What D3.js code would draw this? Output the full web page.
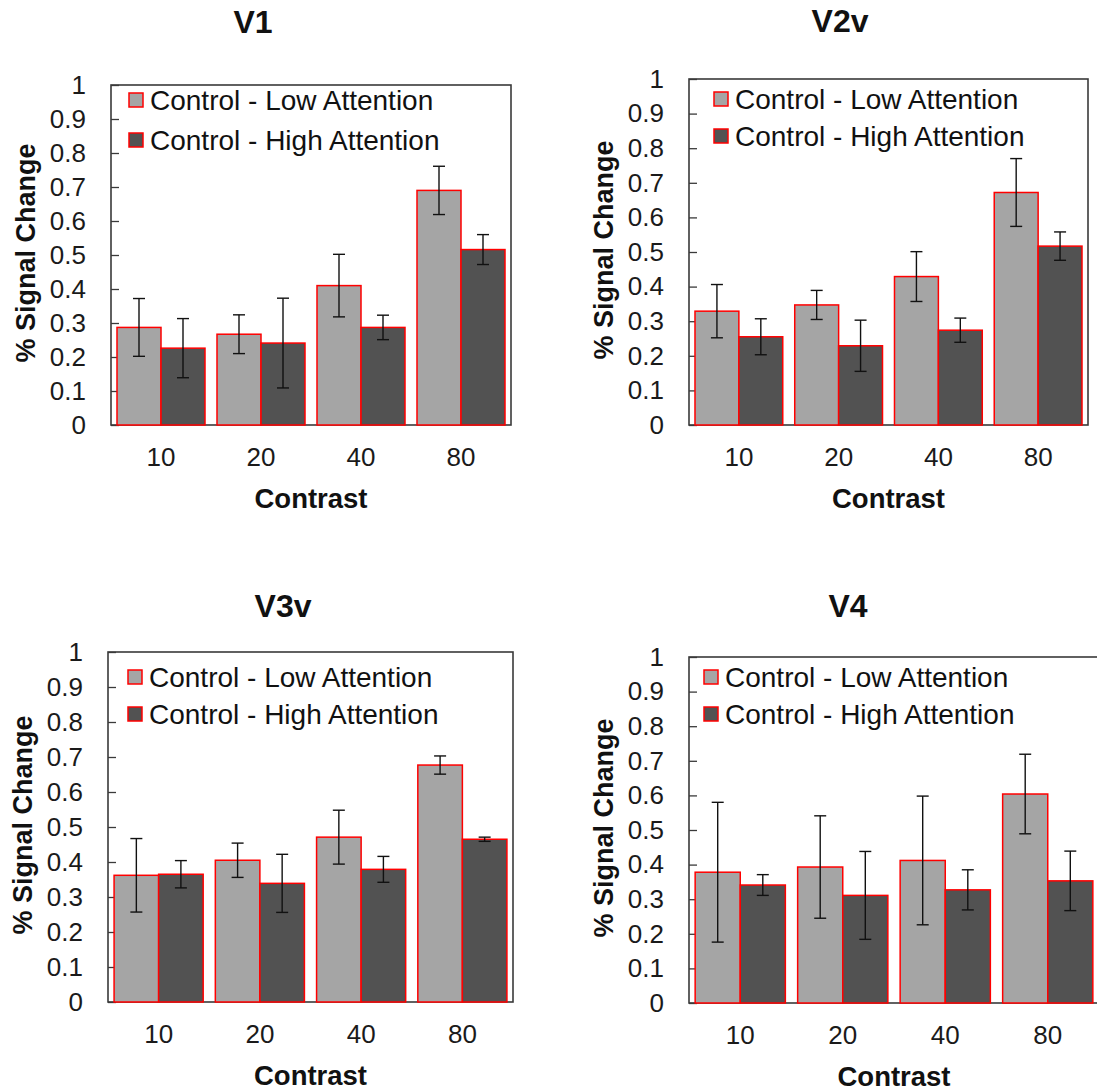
<!DOCTYPE html>
<html>
<head>
<meta charset="utf-8">
<script src="https://cdn.jsdelivr.net/npm/d3@7"></script>
<style>
  body { margin: 0; background: #fff; }
  svg { display: block; font-family: "Liberation Sans", Arial, sans-serif; }
</style>
</head>
<body>
<svg id="chart" width="1097" height="1092"></svg>
<script>
// contrast levels and conditions
var categories = ['10', '20', '40', '80'];
var seriesNames = ['Control - Low Attention', 'Control - High Attention'];
var yTicks = [0, 0.1, 0.2, 0.3, 0.4, 0.5, 0.6, 0.7, 0.8, 0.9, 1];

// means and half-length error bars
var v1Low = [0.287, 0.267, 0.410, 0.690];
var v1LowErr = [0.085, 0.057, 0.092, 0.071];
var v1High = [0.226, 0.241, 0.287, 0.516];
var v1HighErr = [0.087, 0.132, 0.036, 0.044];

var v2Low = [0.329, 0.347, 0.429, 0.672];
var v2LowErr = [0.077, 0.042, 0.072, 0.098];
var v2High = [0.255, 0.229, 0.274, 0.517];
var v2HighErr = [0.052, 0.074, 0.035, 0.041];

var v3Low = [0.362, 0.405, 0.471, 0.677];
var v3LowErr = [0.105, 0.049, 0.077, 0.026];
var v3High = [0.365, 0.339, 0.379, 0.465];
var v3HighErr = [0.039, 0.083, 0.037, 0.006];

var v4Low = [0.378, 0.393, 0.412, 0.604];
var v4LowErr = [0.202, 0.148, 0.186, 0.115];
var v4High = [0.341, 0.311, 0.327, 0.353];
var v4HighErr = [0.030, 0.127, 0.058, 0.086];

var colors = ['#a5a5a5', '#525252'];

// where each panel sits on the page
var panels = [
  { title: 'V1',  low: v1Low, lowErr: v1LowErr, high: v1High, highErr: v1HighErr,
    x: 111, y: 85, w: 400, h: 340, tx: 253, ty: 21, lx: 18, ly: 8, ls: 40 },
  { title: 'V2v', low: v2Low, lowErr: v2LowErr, high: v2High, highErr: v2HighErr,
    x: 689, y: 79, w: 399, h: 346, tx: 840, ty: 20, lx: 25, ly: 13, ls: 37 },
  { title: 'V3v', low: v3Low, lowErr: v3LowErr, high: v3High, highErr: v3HighErr,
    x: 108, y: 652, w: 405, h: 350, tx: 283, ty: 605, lx: 20, ly: 18, ls: 37 },
  { title: 'V4',  low: v4Low, lowErr: v4LowErr, high: v4High, highErr: v4HighErr,
    x: 689, y: 657, w: 410, h: 346, tx: 848, ty: 605, lx: 15, ly: 13, ls: 37 }
];

var svg = d3.select('#chart');

panels.forEach(function (p) {
  var g = svg.append('g').attr('transform', 'translate(' + p.x + ',' + p.y + ')');

  var x0 = d3.scaleBand().domain(categories).range([0, p.w])
    .paddingInner(0.12).paddingOuter(0.06);
  var x1 = d3.scaleBand().domain([0, 1]).range([0, x0.bandwidth()]);
  var y = d3.scaleLinear().domain([0, 1]).range([p.h, 0]);

  // frame
  g.append('rect')
    .attr('width', p.w).attr('height', p.h)
    .attr('fill', 'none').attr('stroke', '#3a3a3a').attr('stroke-width', 1.6);

  // y axis with inward ticks
  var yAxis = g.append('g')
    .call(d3.axisLeft(y).tickValues(yTicks).tickSize(-8).tickPadding(25)
      .tickFormat(function (d) { return d3.format('~g')(d); }));
  yAxis.select('.domain').remove();
  yAxis.selectAll('line').attr('stroke', '#3a3a3a').attr('stroke-width', 1.3);
  yAxis.selectAll('text').attr('font-size', 26).attr('fill', '#1a1a1a')
    .attr('font-family', '"Liberation Sans", Arial, sans-serif');

  var xAxis = g.append('g').attr('transform', 'translate(0,' + p.h + ')')
    .call(d3.axisBottom(x0).tickSize(0).tickPadding(23));
  xAxis.select('.domain').remove();
  xAxis.selectAll('text').attr('font-size', 26).attr('fill', '#1a1a1a')
    .attr('font-family', '"Liberation Sans", Arial, sans-serif');

  var rows = categories.map(function (c, i) {
    return [
      { cat: c, s: 0, v: p.low[i], e: p.lowErr[i] },
      { cat: c, s: 1, v: p.high[i], e: p.highErr[i] }
    ];
  });
  var flat = d3.merge(rows);

  g.selectAll('.bar').data(flat).enter().append('rect').classed('bar', true)
    .attr('x', function (d) { return x0(d.cat) + x1(d.s); })
    .attr('y', function (d) { return y(d.v); })
    .attr('width', x1.bandwidth())
    .attr('height', function (d) { return y(0) - y(d.v); })
    .attr('fill', function (d) { return colors[d.s]; })
    .attr('stroke', '#ff0000').attr('stroke-width', 1.5);

  var cap = 6;
  var err = g.selectAll('.err').data(flat).enter().append('g').classed('err', true)
    .attr('stroke', '#111').attr('stroke-width', 1.4);
  err.append('line')
    .attr('x1', function (d) { return x0(d.cat) + x1(d.s) + x1.bandwidth() / 2; })
    .attr('x2', function (d) { return x0(d.cat) + x1(d.s) + x1.bandwidth() / 2; })
    .attr('y1', function (d) { return y(d.v + d.e); })
    .attr('y2', function (d) { return y(d.v - d.e); });
  [1, -1].forEach(function (k) {
    err.append('line')
      .attr('x1', function (d) { return x0(d.cat) + x1(d.s) + x1.bandwidth() / 2 - cap; })
      .attr('x2', function (d) { return x0(d.cat) + x1(d.s) + x1.bandwidth() / 2 + cap; })
      .attr('y1', function (d) { return y(d.v + k * d.e); })
      .attr('y2', function (d) { return y(d.v + k * d.e); });
  });

  // legend
  var leg = g.selectAll('.leg').data(seriesNames).enter().append('g').classed('leg', true)
    .attr('transform', function (d, i) { return 'translate(' + p.lx + ',' + (p.ly + i * p.ls) + ')'; });
  leg.append('rect').attr('width', 14).attr('height', 14)
    .attr('fill', function (d, i) { return colors[i]; })
    .attr('stroke', '#ff0000').attr('stroke-width', 1.5);
  leg.append('text').attr('x', 21).attr('y', 7).attr('dy', '0.36em')
    .attr('font-size', 28).attr('fill', '#111').text(function (d) { return d; });

  // axis titles
  g.append('text')
    .attr('transform', 'translate(' + (-86) + ',' + (p.h / 2 - 2) + ') rotate(-90)')
    .attr('text-anchor', 'middle').attr('dy', '0.36em')
    .attr('font-size', 27).attr('font-weight', 'bold').attr('fill', '#111')
    .text('% Signal Change');
  g.append('text')
    .attr('x', p.w / 2).attr('y', p.h + 73).attr('dy', '0.36em')
    .attr('text-anchor', 'middle')
    .attr('font-size', 27.5).attr('font-weight', 'bold').attr('fill', '#111')
    .text('Contrast');

  svg.append('text')
    .attr('x', p.tx).attr('y', p.ty).attr('dy', '0.36em')
    .attr('text-anchor', 'middle')
    .attr('font-size', 32).attr('font-weight', 'bold').attr('fill', '#111')
    .text(p.title);
});
</script>
</body>
</html>
